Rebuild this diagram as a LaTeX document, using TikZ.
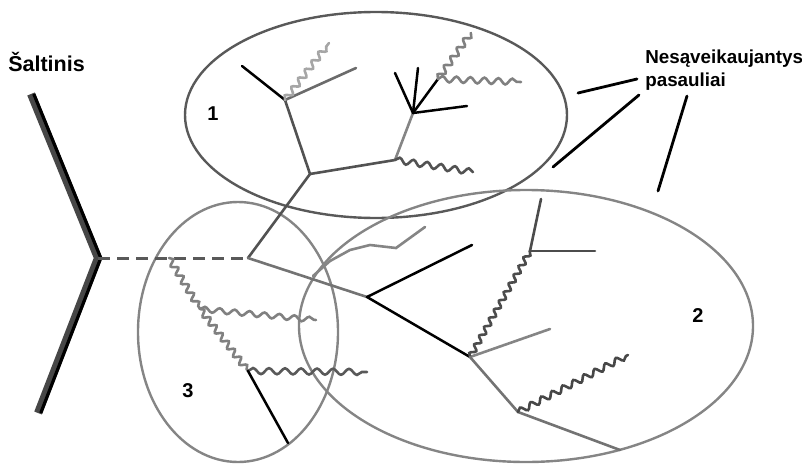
\documentclass[tikz,border=0pt]{standalone}
\usepackage{fontspec}
\setmainfont{Liberation Sans}
\usetikzlibrary{decorations.pathmorphing}

\begin{document}
\begin{tikzpicture}[
  x=1pt, y=-1pt, line width=2.6pt, line cap=round,
  ell/.style={draw=black!48, line width=2.4pt},
  br/.style={draw=black!68},
  lt/.style={draw=black!48},
  blk/.style={draw=black, line width=2.5pt},
  wv/.style={draw=black!50, decorate, decoration={snake, amplitude=3pt, segment length=13pt}},
  ptr/.style={draw=black, line width=2.8pt},
  lbl/.style={font=\bfseries\fontsize{20}{23}\selectfont, inner sep=0pt}]
\useasboundingbox (0,0) rectangle (802,463);
% worlds
\draw[ell, draw=black!65] (376,115) ellipse [x radius=191pt, y radius=103pt];
\draw[ell] (526,326) ellipse [x radius=227pt, y radius=136pt];
\draw[ell] (238,332) ellipse [x radius=100pt, y radius=130pt];
% source
\coordinate (s1) at (31,94);
\coordinate (s2) at (98,258);
\coordinate (s3) at (38,413);
\draw[draw=black!72, line width=8pt, line cap=butt, miter limit=4] (s1) -- (s2) -- (s3);
\draw[black, line width=3.2pt, line cap=butt] ([xshift=2.8pt]s1) -- ([xshift=2.8pt]s2) -- ([xshift=2.8pt]s3);
% points of the tree
\coordinate (a) at (248,258);
\coordinate (p) at (310,174);
\coordinate (b) at (367,297);
\coordinate (b1) at (472,245);
\coordinate (c) at (470,357);
\coordinate (d) at (285,100);
\coordinate (d1) at (242,66);
\coordinate (d2) at (356,68);
\coordinate (d3) at (329,43);
\coordinate (q) at (395,160);
\coordinate (q1) at (473,172);
\coordinate (r) at (413,113);
\coordinate (r1) at (395,73);
\coordinate (r2) at (418,68);
\coordinate (r3) at (438,79);
\coordinate (r4) at (467,106);
\coordinate (w1) at (471,33);
\coordinate (w2) at (521,82);
\coordinate (c1) at (550,329);
\coordinate (e) at (530,251);
\coordinate (e1) at (541,199);
\coordinate (e2) at (595,251);
\coordinate (f) at (518,412);
\coordinate (f1) at (628,355);
\coordinate (f2) at (620,450);
\coordinate (g0) at (169,258);
\coordinate (g) at (200,309);
\coordinate (g1) at (316,320);
\coordinate (h) at (248,371);
\coordinate (h1) at (367,372);
\coordinate (k1) at (288,443);
% dashed link
\draw[draw=black!65, line width=3pt, line cap=butt, dash pattern=on 12pt off 7pt] (s2) -- (a);
% world 1
\draw[br] (a) -- (p) -- (d);
\draw[br] (p) -- (q);
\draw[lt] (q) -- (r);
\draw[blk] (d) -- (d1);
\draw[br, draw=black!58] (d) -- (d2);
\draw[wv, draw=black!35, decoration={amplitude=3pt, segment length=11pt}] (d) -- (d3);
\foreach \t in {r1,r2,r3,r4} \draw[blk] (r) -- (\t);
\draw[wv, decoration={amplitude=3pt, segment length=11pt}] (r3) -- (w1);
\draw[wv, decoration={amplitude=3pt, segment length=14pt}] (r3) -- (w2);
\draw[wv, draw=black!68, decoration={amplitude=3pt, segment length=14pt}] (q) -- (q1);
% world 2
\draw[br, draw=black!55] (a) -- (b);
\draw[blk] (b) -- (b1);
\draw[blk] (b) -- (c);
\draw[lt] (c) -- (c1);
\draw[wv, draw=black!70, decoration={amplitude=2.6pt, segment length=10pt}] (c) -- (e);
\draw[br, draw=black!70] (e) -- (e1);
\draw[br, draw=black!70] (e) -- (e2);
\draw[br, draw=black!55] (c) -- (f) -- (f2);
\draw[wv, draw=black!72, decoration={amplitude=3pt, segment length=12pt}] (f) -- (f1);
\draw[lt] (313,276) -- (330,261) -- (350,250) -- (370,245) -- (396,248) -- (425,227);
% world 3
\draw[wv, decoration={amplitude=3pt, segment length=10pt}] (g0) -- (g);
\draw[wv, decoration={amplitude=2.6pt, segment length=15pt}] (g) -- (g1);
\draw[wv, decoration={amplitude=3pt, segment length=10pt}] (g) -- (h);
\draw[wv, draw=black!65, decoration={amplitude=3pt, segment length=16pt}] (h) -- (h1);
\draw[blk] (h) -- (k1);
% labels
\node[lbl, anchor=base west, font=\bfseries\fontsize{21.5}{24}\selectfont] (src) at (7,71) {Šaltinis};
\node[lbl, anchor=base] (n1) at (213,120) {1};
\node[lbl, anchor=base] (n2) at (698,322) {2};
\node[lbl, anchor=base] (n3) at (188,397) {3};
\node[lbl, anchor=north west, align=left, font=\bfseries\fontsize{18.8}{23}\selectfont] (nes) at (644,49) {Nesąveikaujantys\\pasauliai};
\coordinate (t1) at (578,93);
\coordinate (t2) at (553,167);
\coordinate (t3) at (658,191);
\draw[ptr] (t1) -- (637,79);
\draw[ptr] (t2) -- (639,95);
\draw[ptr] (t3) -- (687,96);
\end{tikzpicture}
\end{document}
